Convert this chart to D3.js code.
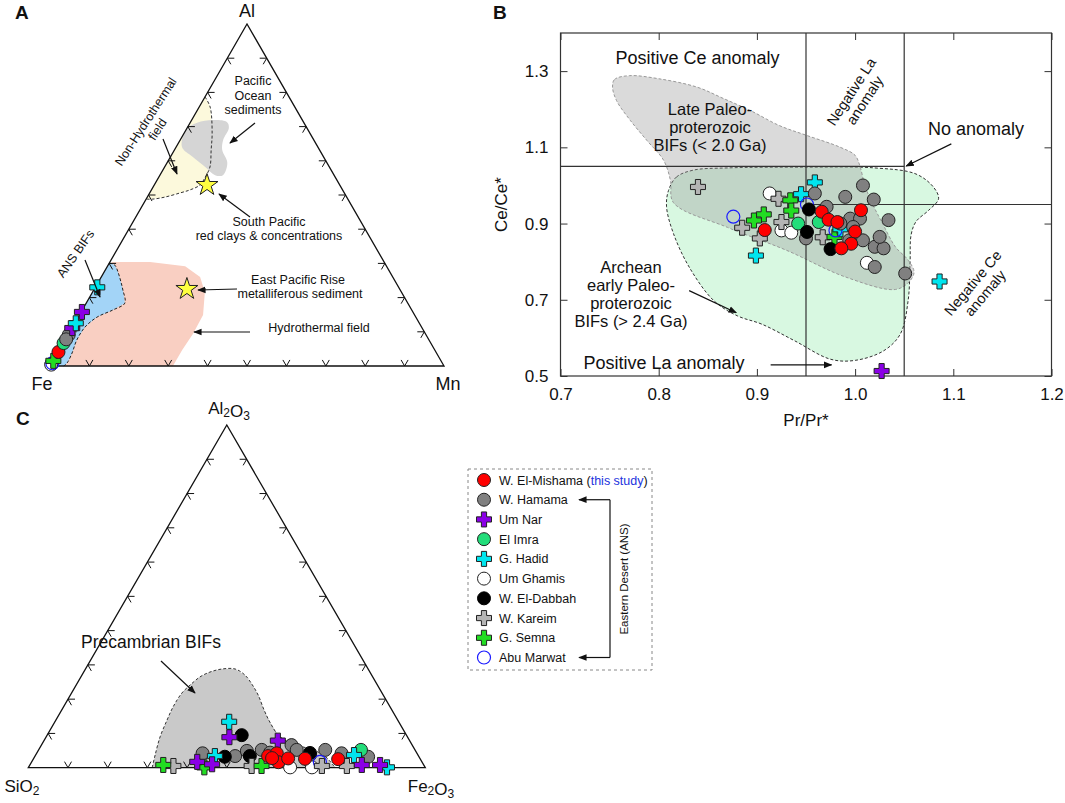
<!DOCTYPE html>
<html>
<head>
<meta charset="utf-8">
<script src="https://cdnjs.cloudflare.com/ajax/libs/d3/7.8.5/d3.min.js"></script>
<style>
  body { margin: 0; background: #fff; }
  svg { font-family: "Liberation Sans", Arial, sans-serif; }
</style>
</head>
<body>
<svg id="fig" width="1065" height="803"></svg>
<script>
// ---------------- data ----------------
var seriesNames = ["W. El-Mishama", "W. Hamama", "Um Nar", "El Imra", "G. Hadid",
                   "Um Ghamis", "W. El-Dabbah", "W. Kareim", "G. Semna", "Abu Marwat"];

// Panel A : [Fe, Mn, Al]
var mishamaA = [[0.958, 0.001, 0.041]];
var hamamaA  = [[0.907, 0.002, 0.091], [0.920, 0.002, 0.078]];
var umNarA   = [[0.840, 0.002, 0.158], [0.888, 0.001, 0.111]];
var elImraA  = [[0.932, 0.001, 0.067]];
var hadidA   = [[0.765, 0.005, 0.230], [0.872, 0.003, 0.125]];
var umGhamisA = [[0.995, 0.001, 0.004]];
var dabbahA  = [[0.993, 0.001, 0.006]];
var kareimA  = [];
var semnaA   = [[0.984, 0.001, 0.015]];
var marwatA  = [[0.990, 0.002, 0.008]];
var starsA   = [[0.337, 0.134, 0.529], [0.540, 0.235, 0.225]]; // South Pacific, East Pacific Rise

// Panel A fields : [Mn, Al]
var nonHydroField = [[0, 0.787], [0.028, 0.757], [0.071, 0.681], [0.093, 0.632], [0.115, 0.582], [0.118, 0.55],
  [0.116, 0.529], [0.098, 0.515], [0.077, 0.506], [0.045, 0.494], [0.017, 0.488], [0, 0.488]];
var pacificField = [[0, 0.69], [0.018, 0.711], [0.054, 0.719], [0.093, 0.713], [0.106, 0.696], [0.109, 0.661],
  [0.121, 0.632], [0.153, 0.594], [0.16, 0.558], [0.14, 0.558], [0.103, 0.582], [0.057, 0.611], [0.015, 0.64]];
var ansField = [[0, 0.301], [0.017, 0.295], [0.035, 0.275], [0.057, 0.246], [0.074, 0.222], [0.098, 0.184],
  [0.078, 0.164], [0.048, 0.143], [0.032, 0.114], [0.03, 0.076], [0.037, 0.038], [0.039, 0.009], [0.035, 0], [0, 0]];
var hydroField = [[0.005, 0.304], [0.102, 0.304], [0.197, 0.292], [0.251, 0.26], [0.285, 0.216], [0.314, 0.149],
  [0.316, 0.094], [0.312, 0.047], [0.312, 0], [0, 0]];

// Panel B : [Pr/Pr*, Ce/Ce*]
var mishamaB = [[0.908, 0.883], [0.966, 0.931], [0.973, 0.910], [0.982, 0.904], [1.006, 0.935], [1.0, 0.879], [0.996, 0.847], [0.986, 0.835]];
var hamamaB = [[0.959, 0.979], [0.990, 0.970], [1.008, 1.0], [1.019, 0.963], [1.034, 0.909], [0.971, 0.944], [0.995, 0.913],
  [1.005, 0.913], [0.998, 0.891], [1.008, 0.856], [1.020, 0.839], [1.029, 0.835], [1.025, 0.865], [1.020, 0.786],
  [1.051, 0.769], [0.950, 0.861], [0.994, 0.856], [0.985, 0.900]];
var umNarB = [[1.027, 0.513]];
var elImraB = [[0.942, 0.900], [0.963, 0.904]];
var hadidB = [[0.959, 1.008], [0.945, 0.977], [0.899, 0.816], [1.086, 0.748], [0.985, 0.885]];
var umGhamisB = [[0.913, 0.979], [0.925, 0.882], [0.935, 0.876], [1.012, 0.797]];
var dabbahB = [[0.953, 0.937], [0.951, 0.878], [0.975, 0.833]];
var kareimB = [[0.840, 0.996], [0.922, 0.965], [0.925, 0.904], [0.885, 0.889], [0.903, 0.861], [0.967, 0.864]];
var semnaB = [[0.934, 0.961], [0.935, 0.934], [0.907, 0.924], [0.897, 0.908], [0.979, 0.865]];
var marwatB = [[0.876, 0.918], [0.951, 0.950], [0.980, 0.882]];

var xTicksB = [0.7, 0.8, 0.9, 1.0, 1.1, 1.2];
var yTicksB = [0.5, 0.7, 0.9, 1.1, 1.3];
var archeanField = [[0.81, 0.987], [0.818, 1.022], [0.835, 1.04], [0.87, 1.046], [0.95, 1.048], [1.02, 1.046], [1.062, 1.03],
  [1.08, 0.995], [1.085, 0.965], [1.075, 0.935], [1.062, 0.905], [1.057, 0.87], [1.056, 0.80], [1.054, 0.698],
  [1.046, 0.61], [1.029, 0.566], [1.0, 0.541], [0.975, 0.544], [0.938, 0.593], [0.905, 0.636], [0.88, 0.658],
  [0.856, 0.698], [0.831, 0.786], [0.815, 0.874], [0.808, 0.944]];
var lateField = [[0.753, 1.258], [0.755, 1.278], [0.77, 1.288], [0.80, 1.28], [0.839, 1.258], [0.866, 1.228], [0.893, 1.197],
  [0.923, 1.157], [0.951, 1.131], [0.985, 1.10], [1.0, 1.079], [1.005, 1.05], [1.01, 1.0], [1.018, 0.95], [1.028, 0.90],
  [1.041, 0.839], [1.054, 0.804], [1.06, 0.773], [1.055, 0.747], [1.041, 0.727], [0.99, 0.76], [0.93, 0.83],
  [0.87, 0.89], [0.815, 0.955], [0.812, 1.013], [0.805, 1.066], [0.788, 1.118], [0.771, 1.171], [0.757, 1.223]];

// Panel C : [SiO2, Al2O3, Fe2O3]
var mishamaC = [[0.379, 0.034, 0.587], [0.353, 0.042, 0.605], [0.362, 0.016, 0.622], [0.332, 0.027, 0.641],
  [0.290, 0.026, 0.684], [0.207, 0.025, 0.768], [0.372, 0.028, 0.600]];
var hamamaC = [[0.540, 0.042, 0.418], [0.462, 0.034, 0.504], [0.425, 0.049, 0.526], [0.386, 0.052, 0.562],
  [0.369, 0.044, 0.587], [0.304, 0.066, 0.630], [0.298, 0.052, 0.650], [0.272, 0.037, 0.691], [0.226, 0.052, 0.722],
  [0.190, 0.042, 0.768], [0.128, 0.032, 0.840]];
var umNarC = [[0.566, 0.017, 0.417], [0.532, 0.010, 0.458], [0.449, 0.089, 0.462], [0.332, 0.079, 0.589],
  [0.156, 0.008, 0.836], [0.110, 0.008, 0.882]];
var elImraC = [[0.136, 0.052, 0.812]];
var hadidC = [[0.427, 0.134, 0.439], [0.513, 0.034, 0.453], [0.161, 0.037, 0.802], [0.096, 0.001, 0.903]];
var umGhamisC = [[0.340, 0.001, 0.659], [0.285, 0.001, 0.714]];
var dabbahC = [[0.489, 0.032, 0.479], [0.415, 0.095, 0.490], [0.425, 0.034, 0.541], [0.269, 0.043, 0.688]];
var kareimC = [[0.632, 0.005, 0.363], [0.435, 0.005, 0.560], [0.258, 0.005, 0.737], [0.195, 0.005, 0.800]];
var semnaC = [[0.656, 0.008, 0.336], [0.556, 0.001, 0.443], [0.410, 0.005, 0.585]];
var marwatC = [[0.257, 0.017, 0.726]];

// Panel C field : [Fe2O3, Al2O3]
var precambrianField = [[0.312, 0], [0.301, 0.037], [0.287, 0.09], [0.28, 0.139], [0.276, 0.177], [0.278, 0.218],
  [0.287, 0.241], [0.30, 0.265], [0.318, 0.279], [0.344, 0.288], [0.377, 0.288], [0.411, 0.27], [0.441, 0.244],
  [0.473, 0.212], [0.51, 0.168], [0.542, 0.133], [0.581, 0.096], [0.617, 0.075], [0.653, 0.063], [0.691, 0.052],
  [0.73, 0.034], [0.773, 0]];

// marker look of every series
var seriesStyle = {
  "W. El-Mishama": {shape: "circle", fill: "#ff0000", stroke: "#222"},
  "W. Hamama":     {shape: "circle", fill: "#808080", stroke: "#222"},
  "Um Nar":        {shape: "cross",  fill: "#8a00e6", stroke: "#222"},
  "El Imra":       {shape: "circle", fill: "#22dd7a", stroke: "#222"},
  "G. Hadid":      {shape: "cross",  fill: "#00e5ee", stroke: "#222"},
  "Um Ghamis":     {shape: "circle", fill: "#ffffff", stroke: "#222"},
  "W. El-Dabbah":  {shape: "circle", fill: "#000000", stroke: "#000"},
  "W. Kareim":     {shape: "cross",  fill: "#b4b4b4", stroke: "#222"},
  "G. Semna":      {shape: "cross",  fill: "#22dd22", stroke: "#222"},
  "Abu Marwat":    {shape: "circle", fill: "none",    stroke: "#1a1aff"}
};

var svg = d3.select("#fig");

var defs = svg.append("defs");
defs.append("marker").attr("id", "arrow")
  .attr("viewBox", "0 0 10 10").attr("refX", 9).attr("refY", 5)
  .attr("markerWidth", 7).attr("markerHeight", 7).attr("orient", "auto-start-reverse")
  .append("path").attr("d", "M0,1 L10,5 L0,9 Z").attr("fill", "#111");

var crossPath = "M-2.6,-7.5L2.6,-7.5L2.6,-2.6L7.5,-2.6L7.5,2.6L2.6,2.6L2.6,7.5L-2.6,7.5L-2.6,2.6L-7.5,2.6L-7.5,-2.6L-2.6,-2.6Z";

function addMarker(g, name, x, y) {
  var st = seriesStyle[name];
  if (st.shape === "cross") {
    g.append("path").attr("d", crossPath)
      .attr("transform", "translate(" + x + "," + y + ")")
      .attr("fill", st.fill).attr("stroke", st.stroke).attr("stroke-width", 1);
  } else {
    g.append("circle").attr("cx", x).attr("cy", y).attr("r", 6.5)
      .attr("fill", st.fill).attr("stroke", st.stroke)
      .attr("stroke-width", name === "Abu Marwat" ? 1.2 : 1);
  }
}

function arrow(g, x1, y1, x2, y2) {
  g.append("line").attr("x1", x1).attr("y1", y1).attr("x2", x2).attr("y2", y2)
    .attr("stroke", "#111").attr("stroke-width", 1.2).attr("marker-end", "url(#arrow)");
}

function label(g, txt, x, y, size, anchor) {
  return g.append("text").attr("x", x).attr("y", y).attr("font-size", size)
    .attr("text-anchor", anchor || "middle").attr("fill", "#111").text(txt);
}

// subscripted chemical label like Al2O3
function chemLabel(g, parts, x, y) {
  var t = g.append("text").attr("x", x).attr("y", y).attr("font-size", 17)
    .attr("text-anchor", "middle").attr("fill", "#111");
  parts.forEach(function(p) {
    var isSub = /^[0-9]$/.test(p);
    t.append("tspan").attr("font-size", isSub ? 12 : 17)
      .attr("dy", isSub ? 3 : 0).text(p);
    if (isSub) t.append("tspan").attr("dy", -3).text("");
  });
}

// Ternary projection: b = right corner fraction, c = apex fraction
function makeTernary(x0, y0, side, h) {
  var bx = d3.scaleLinear().domain([0, 1]).range([0, side]);
  var cy = d3.scaleLinear().domain([0, 1]).range([y0, y0 - h]);
  return function(b, c) { return [x0 + bx(b) + bx(c) / 2, cy(c)]; };
}

function drawTriangle(g, proj, armLen) {
  var corners = [proj(0, 0), proj(1, 0), proj(0, 1)];
  g.append("path").attr("d", "M" + corners.join("L") + "Z")
    .attr("fill", "none").attr("stroke", "#111").attr("stroke-width", 1.3);
  var s = Math.sqrt(3) / 2;
  var ticks = [];
  for (var i = 1; i < 10; i++) {
    var t = i / 10;
    ticks.push({p: proj(t, 0), a: [-0.5, -s], b: [0.5, -s]});       // base
    ticks.push({p: proj(0, t), a: [1, 0], b: [0.5, s]});            // left side
    ticks.push({p: proj(1 - t, t), a: [-1, 0], b: [-0.5, s]});      // right side
  }
  g.selectAll(null).data(ticks).enter().append("path")
    .attr("d", function(d) {
      return "M" + (d.p[0] + d.a[0] * armLen) + "," + (d.p[1] + d.a[1] * armLen) +
        "L" + d.p[0] + "," + d.p[1] +
        "L" + (d.p[0] + d.b[0] * armLen) + "," + (d.p[1] + d.b[1] * armLen);
    })
    .attr("fill", "none").attr("stroke", "#111").attr("stroke-width", 1);
}

// ======================= Panel A =======================
var gA = svg.append("g");
var projA = makeTernary(50, 366, 394, 342);
function pA(d) { return projA(d[0], d[1]); }          // [Mn, Al]
function pA3(d) { return projA(d[1], d[2]); }         // [Fe, Mn, Al]

var linear = d3.line().curve(d3.curveLinearClosed);
var smoothOpen = d3.line().curve(d3.curveCatmullRom.alpha(0.5));
var smoothClosed = d3.line().curve(d3.curveCatmullRomClosed.alpha(0.5));

gA.append("path").attr("d", linear(hydroField.map(pA))).attr("fill", "#f9cfc2");
gA.append("path").attr("d", linear(ansField.map(pA))).attr("fill", "#a3d4f7");
gA.append("path").attr("d", smoothOpen(ansField.slice(0, 13).map(pA)))
  .attr("fill", "none").attr("stroke", "#222").attr("stroke-dasharray", "3,2");
gA.append("path").attr("d", linear(nonHydroField.map(pA))).attr("fill", "#fcf9dc");
gA.append("path").attr("d", smoothClosed(pacificField.map(pA))).attr("fill", "#d5d5d5");
gA.append("path").attr("d", smoothOpen(nonHydroField.map(pA)))
  .attr("fill", "none").attr("stroke", "#333").attr("stroke-dasharray", "3,2");

drawTriangle(gA, projA, 7);

var star = d3.symbol().type(d3.symbolStar).size(150);
starsA.forEach(function(d) {
  var p = pA3(d);
  gA.append("path").attr("d", star()).attr("transform", "translate(" + p[0] + "," + p[1] + ")")
    .attr("fill", "#ffff40").attr("stroke", "#222").attr("stroke-width", 1);
});

var dataA = {"W. El-Mishama": mishamaA, "W. Hamama": hamamaA, "Um Nar": umNarA, "El Imra": elImraA,
  "G. Hadid": hadidA, "Um Ghamis": umGhamisA, "W. El-Dabbah": dabbahA, "W. Kareim": kareimA,
  "G. Semna": semnaA, "Abu Marwat": marwatA};
["W. El-Dabbah", "Um Ghamis", "Abu Marwat", "G. Semna", "W. El-Mishama", "El Imra", "W. Hamama",
 "Um Nar", "G. Hadid", "W. Kareim"].forEach(function(name) {
  dataA[name].forEach(function(d) { var p = pA3(d); addMarker(gA, name, p[0], p[1]); });
});

label(gA, "A", 15, 18.5, 19, "start").attr("font-weight", "bold");
label(gA, "Al", 247, 17, 18);
label(gA, "Fe", 42, 390, 18);
label(gA, "Mn", 448, 390, 18);

label(gA, "Pacific", 253, 85, 12.5);
label(gA, "Ocean", 253, 99.5, 12.5);
label(gA, "sediments", 253, 113.5, 12.5);
arrow(gA, 255, 123, 230, 143);

var nh = gA.append("g").attr("transform", "translate(151,125) rotate(-57)");
label(nh, "Non-Hydrothermal", 0, -2, 12.5);
label(nh, "field", 0, 12, 12.5);
arrow(gA, 163, 139, 177, 174);

label(gA, "South Pacific", 269, 226, 12.5);
label(gA, "red clays & concentrations", 269, 240, 12.5);
arrow(gA, 250, 217, 219, 194);

label(gA, "ANS BIFs", 0, 0, 12.5).attr("transform", "translate(79,256) rotate(-55)");
arrow(gA, 85, 260, 100, 297);

label(gA, "East Pacific Rise", 298, 283.5, 12.5);
label(gA, "metalliferous sediment", 300, 298, 12.5);
arrow(gA, 237, 289, 198, 290);

label(gA, "Hydrothermal field", 319, 331.5, 12.5);
arrow(gA, 250, 332, 194, 332);

// ======================= Panel B =======================
var gB = svg.append("g");
var xB = d3.scaleLinear().domain([0.7, 1.2]).range([560.5, 1051.5]);
var yB = d3.scaleLinear().domain([0.5, 1.4]).range([376, 33]);
function pB(d) { return [xB(d[0]), yB(d[1])]; }

gB.append("path").attr("d", smoothClosed(archeanField.map(pB)))
  .attr("fill", "#d8f8e1").attr("stroke", "#333").attr("stroke-dasharray", "3,2");
gB.append("path").attr("d", smoothClosed(lateField.map(pB)))
  .attr("fill", "#9a9a9a").attr("fill-opacity", 0.37)
  .attr("stroke", "#999").attr("stroke-dasharray", "3,2");

// anomaly limits
var refLines = [
  [[0.95, 0.5], [0.95, 1.4]], [[1.05, 0.5], [1.05, 1.4]],
  [[0.7, 1.05], [1.05, 1.05]], [[0.95, 0.95], [1.2, 0.95]]
];
refLines.forEach(function(l) {
  gB.append("line").attr("x1", xB(l[0][0])).attr("y1", yB(l[0][1]))
    .attr("x2", xB(l[1][0])).attr("y2", yB(l[1][1]))
    .attr("stroke", "#333").attr("stroke-width", 1.2);
});

// axes with inward ticks
var fmt = d3.format(".1f");
function styleAxis(sel) {
  sel.select(".domain").remove();
  sel.selectAll("line").attr("stroke", "#333");
  sel.selectAll("text").attr("font-size", 17).attr("fill", "#111")
    .attr("font-family", "Liberation Sans, Arial, sans-serif");
}
gB.append("g").attr("transform", "translate(0," + yB(0.5) + ")")
  .call(d3.axisBottom(xB).tickValues(xTicksB).tickSizeInner(-7).tickSizeOuter(0).tickPadding(12).tickFormat(fmt))
  .call(styleAxis);
gB.append("g").attr("transform", "translate(0," + yB(1.4) + ")")
  .call(d3.axisTop(xB).tickValues(xTicksB).tickSizeInner(-7).tickSizeOuter(0).tickFormat(""))
  .call(styleAxis);
gB.append("g").attr("transform", "translate(" + xB(0.7) + ",0)")
  .call(d3.axisLeft(yB).tickValues(yTicksB).tickSizeInner(-7).tickSizeOuter(0).tickPadding(12).tickFormat(fmt))
  .call(styleAxis);
gB.append("g").attr("transform", "translate(" + xB(1.2) + ",0)")
  .call(d3.axisRight(yB).tickValues(yTicksB).tickSizeInner(-7).tickSizeOuter(0).tickFormat(""))
  .call(styleAxis);
gB.append("rect").attr("x", xB(0.7)).attr("y", yB(1.4))
  .attr("width", xB(1.2) - xB(0.7)).attr("height", yB(0.5) - yB(1.4))
  .attr("fill", "none").attr("stroke", "#333").attr("stroke-width", 1.2);

var dataB = {"W. El-Mishama": mishamaB, "W. Hamama": hamamaB, "Um Nar": umNarB, "El Imra": elImraB,
  "G. Hadid": hadidB, "Um Ghamis": umGhamisB, "W. El-Dabbah": dabbahB, "W. Kareim": kareimB,
  "G. Semna": semnaB, "Abu Marwat": marwatB};
["Um Ghamis", "W. Kareim", "G. Semna", "G. Hadid", "Abu Marwat", "W. Hamama", "El Imra",
 "W. El-Dabbah", "W. El-Mishama", "Um Nar"].forEach(function(name) {
  dataB[name].forEach(function(d) { var p = pB(d); addMarker(gB, name, p[0], p[1]); });
});

label(gB, "B", 493, 18.5, 19, "start").attr("font-weight", "bold");
label(gB, "Ce/Ce*", 0, 0, 17).attr("transform", "translate(507," + yB(0.95) + ") rotate(-90)");
label(gB, "Pr/Pr*", xB(0.95), 426, 17);

label(gB, "Positive Ce anomaly", xB(0.7) + 55, 63.5, 18, "start");
label(gB, "Late Paleo-", 710, 115, 16.5);
label(gB, "proterozoic", 710, 133, 16.5);
label(gB, "BIFs (< 2.0 Ga)", 710, 151, 16.5);

var nl = gB.append("g").attr("transform", "translate(858,96) rotate(-57)");
label(nl, "Negative La", 0, -3, 14.5);
label(nl, "anomaly", 0, 13, 14.5);

label(gB, "No anomaly", 976, 134.5, 18);
arrow(gB, xB(1.098), yB(1.109), xB(1.052), yB(1.051));

label(gB, "Archean", 631, 273, 16.5);
label(gB, "early Paleo-", 631, 291, 16.5);
label(gB, "proterozoic", 631, 309, 16.5);
label(gB, "BIFs (> 2.4 Ga)", 631, 327, 16.5);
arrow(gB, xB(0.831), yB(0.724), xB(0.879), yB(0.666));

label(gB, "Positive La anomaly", 664, 369, 18);
arrow(gB, xB(0.914), yB(0.529), xB(0.976), yB(0.529));

var nc = gB.append("g").attr("transform", "translate(979,288) rotate(-50)");
label(nc, "Negative Ce", 0, -3, 14.5);
label(nc, "anomaly", 0, 13, 14.5);

// ======================= Panel C =======================
var gC = svg.append("g");
var projC = makeTernary(28.3, 767.7, 397, 342.7);
function pC(d) { return projC(d[0], d[1]); }          // [Fe2O3, Al2O3]
function pC3(d) { return projC(d[2], d[1]); }         // [SiO2, Al2O3, Fe2O3]

gC.append("path").attr("d", linear(precambrianField.map(pC))).attr("fill", "#c9c9c9");
gC.append("path").attr("d", smoothOpen(precambrianField.map(pC)))
  .attr("fill", "none").attr("stroke", "#333").attr("stroke-dasharray", "3,2");
drawTriangle(gC, projC, 7);

var dataC = {"W. El-Mishama": mishamaC, "W. Hamama": hamamaC, "Um Nar": umNarC, "El Imra": elImraC,
  "G. Hadid": hadidC, "Um Ghamis": umGhamisC, "W. El-Dabbah": dabbahC, "W. Kareim": kareimC,
  "G. Semna": semnaC, "Abu Marwat": marwatC};
["W. Hamama", "Um Ghamis", "Abu Marwat", "El Imra", "W. El-Dabbah", "W. Kareim", "G. Semna",
 "G. Hadid", "Um Nar", "W. El-Mishama"].forEach(function(name) {
  dataC[name].forEach(function(d) { var p = pC3(d); addMarker(gC, name, p[0], p[1]); });
});

label(gC, "C", 16, 425, 19, "start").attr("font-weight", "bold");
chemLabel(gC, ["Al", "2", "O", "3"], 229, 414);
chemLabel(gC, ["SiO", "2"], 22, 792);
chemLabel(gC, ["Fe", "2", "O", "3"], 431, 792);

label(gC, "Precambrian BIFs", 151, 648, 17.5);
arrow(gC, 161, 661, 195, 693);

// ======================= Legend =======================
var gL = svg.append("g");
gL.append("rect").attr("x", 468).attr("y", 469).attr("width", 184).attr("height", 201)
  .attr("fill", "none").attr("stroke", "#888").attr("stroke-dasharray", "3,3");

var legY = d3.scalePoint().domain(seriesNames).range([480, 657.5]);
seriesNames.forEach(function(name, i) {
  addMarker(gL, name, 484, legY(name));
  var t = label(gL, name, 499, legY(name) + 4.5, 12.5, "start");
  if (i === 0) {
    t.append("tspan").text(" (");
    t.append("tspan").attr("fill", "#2233dd").text("this study");
    t.append("tspan").text(")");
  }
});

// bracket for Eastern Desert localities
gL.append("path")
  .attr("d", "M610," + legY("W. Hamama") + "V" + legY("Abu Marwat"))
  .attr("fill", "none").attr("stroke", "#111").attr("stroke-width", 1.2);
arrow(gL, 610, legY("W. Hamama"), 579, legY("W. Hamama"));
arrow(gL, 610, legY("Abu Marwat"), 579, legY("Abu Marwat"));
label(gL, "Eastern Desert (ANS)", 0, 0, 11.5).attr("transform", "translate(628,579) rotate(-90)");
</script>
</body>
</html>
